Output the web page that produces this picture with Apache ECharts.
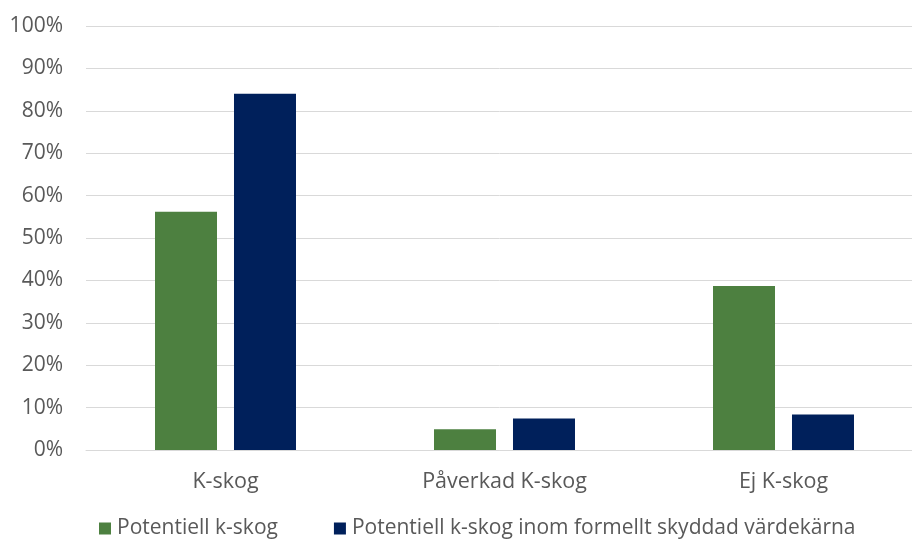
<!DOCTYPE html>
<html>
<head>
<meta charset="utf-8">
<script src="https://cdn.jsdelivr.net/npm/echarts@6/dist/echarts.min.js"></script>
<style>
  html, body { margin: 0; padding: 0; background: #ffffff; }
  #chart { width: 912px; height: 545px; }
</style>
</head>
<body>
<div id="chart"></div>
<script>
// Andel per kategori (procent)
const categories = ['K-skog', 'Påverkad K-skog', 'Ej K-skog'];
const seriesNames = ['Potentiell k-skog', 'Potentiell k-skog inom formellt skyddad värdekärna'];
const potentiell = [56.2, 4.9, 38.7];
const skyddad = [84.0, 7.4, 8.4];

const font = '"Open Sans", sans-serif';
const textColor = '#595959';

const chart = echarts.init(document.getElementById('chart'), null, { renderer: 'canvas' });
chart.setOption({
  animation: false,
  grid: { left: 86, top: 26, width: 837, height: 424, containLabel: false, outerBoundsMode: 'none' },
  legend: {
    top: 513,
    left: 94,
    itemWidth: 12,
    itemHeight: 12,
    itemGap: 56,
    icon: 'rect',
    textStyle: { fontFamily: font, fontSize: 21, color: textColor, padding: [0, 0, 0, 1] },
    data: seriesNames
  },
  xAxis: {
    type: 'category',
    data: categories,
    axisLine: { lineStyle: { color: '#d9d9d9', width: 1 } },
    axisTick: { show: false },
    axisLabel: { fontFamily: font, fontSize: 21.5, color: textColor, margin: 21 }
  },
  yAxis: {
    type: 'value',
    min: 0,
    max: 100,
    interval: 10,
    axisLine: { show: false },
    axisTick: { show: false },
    splitLine: { lineStyle: { color: '#d9d9d9', width: 1 } },
    axisLabel: { fontFamily: font, fontSize: 21, color: textColor, margin: 23, formatter: '{value}%' }
  },
  series: [
    {
      name: seriesNames[0],
      type: 'bar',
      data: potentiell,
      barWidth: 62,
      barGap: '27.4%',
      itemStyle: { color: '#4d8040' }
    },
    {
      name: seriesNames[1],
      type: 'bar',
      data: skyddad,
      barWidth: 62,
      barGap: '27.4%',
      itemStyle: { color: '#00205b' }
    }
  ]
});
</script>
</body>
</html>
